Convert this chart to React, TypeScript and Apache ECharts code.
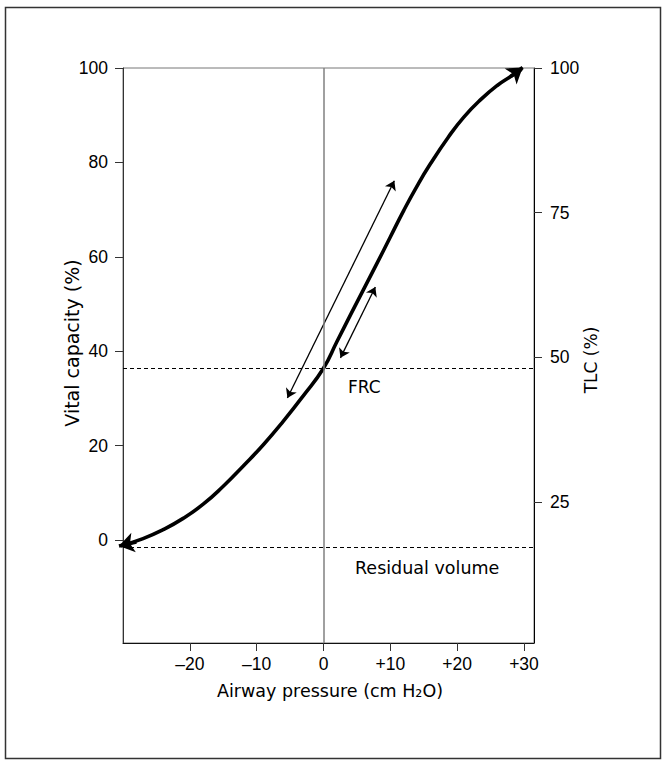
import React, { useEffect, useRef } from "react";
import * as echarts from "echarts";

// Pressure-volume curve of the respiratory system (relaxation curve)
const CURVE_PRESSURE = [-30.3, -27, -24, -21, -18, -15, -12, -9, -6, -3, 0, 2, 4, 6, 8, 10, 12, 14, 16, 18.7, 21, 23.6, 26, 28, 29.5];
const CURVE_VOLUME = [-1.2, 0.3, 2.2, 4.6, 7.6, 11.4, 15.7, 20.2, 25.2, 30.6, 36.4, 42.0, 47.6, 53.1, 58.6, 64.2, 69.8, 75.0, 79.7, 85.4, 89.6, 93.4, 96.3, 98.2, 99.6];

// arrowheads at the two ends of the curve: [from, to]
const CURVE_END_LEFT = [[-28, -0.4], [-30.6, -1.25]];
const CURVE_END_RIGHT = [[28, 98.2], [29.8, 100.1]];

// thin double-headed arrows
const ARROW_LONG = [[-5.4, 30.1], [10.6, 76.1]];
const ARROW_SHORT = [[2.54, 38.6], [7.76, 53.6]];

// reference levels (vital capacity %)
const FRC_LEVEL = 36.4;
const RESIDUAL_LEVEL = -1.5;

// axis ticks
const X_TICKS = [-20, -10, 0, 10, 20, 30];
const VC_TICKS = [0, 20, 40, 60, 80, 100];
const TLC_TICKS = [25, 50, 75, 100];

const NUM_FONT = "'Liberation Sans', Arial, sans-serif";
const TEXT_FONT = "'DejaVu Sans', 'Liberation Sans', sans-serif";

export default function App() {
  const ref = useRef<HTMLDivElement>(null);

  useEffect(() => {
    if (!ref.current) return;
    const chart = echarts.init(ref.current, null, { renderer: "svg" });

    const curveData = CURVE_PRESSURE.map((p, i) => [p, CURVE_VOLUME[i]]);

    const option = {
      animation: false,
      backgroundColor: "#fff",
      grid: {
        left: 123,
        right: 129,
        top: 68,
        bottom: 119,
        show: true,
        borderColor: "#777",
        borderWidth: 1,
        backgroundColor: "transparent",
      },
      xAxis: {
        type: "value",
        min: -30,
        max: 31.5,
        position: "bottom",
        splitLine: { show: false },
        axisLine: { show: true, onZero: false, lineStyle: { color: "#111", width: 1 } },
        axisTick: {
          show: true,
          inside: false,
          customValues: X_TICKS,
          length: 8,
          lineStyle: { color: "#333", width: 1 },
        },
        axisLabel: {
          customValues: X_TICKS,
          margin: 12,
          color: "#000",
          fontSize: 17.5,
          fontFamily: NUM_FONT,
          formatter: (v: number) => (v > 0 ? "+" + v : v < 0 ? "\u2013" + Math.abs(v) : "0"),
        },
      },
      yAxis: [
        {
          type: "value",
          position: "left",
          min: -21.8,
          max: 100,
          splitLine: { show: false },
          axisLine: { show: true, onZero: false, lineStyle: { color: "#333", width: 1 } },
          axisTick: {
            show: true,
            inside: false,
            customValues: VC_TICKS,
            length: 8,
            lineStyle: { color: "#333", width: 1 },
          },
          axisLabel: {
            customValues: VC_TICKS,
            margin: 15,
            color: "#000",
            fontSize: 17.5,
            fontFamily: NUM_FONT,
          },
        },
        {
          type: "value",
          position: "right",
          min: 0.6,
          max: 100,
          splitLine: { show: false },
          axisLine: { show: true, onZero: false, lineStyle: { color: "#000", width: 1 } },
          axisTick: {
            show: true,
            inside: false,
            customValues: TLC_TICKS,
            length: 8,
            lineStyle: { color: "#333", width: 1 },
          },
          axisLabel: {
            customValues: TLC_TICKS,
            margin: 16,
            color: "#000",
            fontSize: 17.5,
            fontFamily: NUM_FONT,
          },
        },
      ],
      series: [
        {
          type: "line",
          name: "reference",
          data: [],
          z: 1,
          silent: true,
          markLine: {
            silent: true,
            symbol: ["none", "none"],
            label: { show: false },
            data: [
              { xAxis: 0, lineStyle: { color: "#808080", width: 1.5, type: "solid" } },
              { yAxis: FRC_LEVEL, lineStyle: { color: "#000", width: 1, type: [4, 3] } },
              { yAxis: RESIDUAL_LEVEL, lineStyle: { color: "#000", width: 1, type: [4, 3] } },
            ],
          },
        },
        {
          type: "line",
          name: "curve",
          data: curveData,
          smooth: 0.5,
          showSymbol: false,
          symbol: "none",
          clip: false,
          z: 3,
          lineStyle: { color: "#000", width: 3.6, cap: "round", join: "round" },
        },
        {
          type: "lines",
          coordinateSystem: "cartesian2d",
          clip: false,
          z: 4,
          symbol: ["none", "arrow"],
          symbolSize: 15,
          lineStyle: { color: "#000", width: 3.6, opacity: 1, curveness: 0 },
          itemStyle: { color: "#000" },
          data: [{ coords: CURVE_END_LEFT }, { coords: CURVE_END_RIGHT }],
        },
        {
          type: "lines",
          coordinateSystem: "cartesian2d",
          clip: false,
          z: 4,
          symbol: ["arrow", "arrow"],
          symbolSize: 9,
          lineStyle: { color: "#000", width: 1.3, opacity: 1, curveness: 0 },
          itemStyle: { color: "#000" },
          data: [{ coords: ARROW_LONG }, { coords: ARROW_SHORT }],
        },
      ],
      graphic: [
        {
          type: "rect",
          shape: { x: 5.5, y: 7.5, width: 655, height: 751 },
          style: { fill: "none", stroke: "#333", lineWidth: 1.5 },
          silent: true,
        },
        {
          type: "text",
          x: 72,
          y: 343,
          rotation: Math.PI / 2,
          style: {
            text: "Vital capacity (%)",
            fontSize: 19,
            fontFamily: TEXT_FONT,
            fill: "#000",
            align: "center",
            verticalAlign: "middle",
          },
        },
        {
          type: "text",
          x: 591,
          y: 360,
          rotation: Math.PI / 2,
          style: {
            text: "TLC (%)",
            fontSize: 17,
            fontFamily: TEXT_FONT,
            fill: "#000",
            align: "center",
            verticalAlign: "middle",
          },
        },
        {
          type: "text",
          x: 330,
          y: 691,
          style: {
            text: "Airway pressure (cm H\u2082O)",
            fontSize: 17.5,
            fontFamily: TEXT_FONT,
            fill: "#000",
            align: "center",
            verticalAlign: "middle",
          },
        },
        {
          type: "text",
          x: 348,
          y: 387,
          style: {
            text: "FRC",
            fontSize: 17,
            fontFamily: TEXT_FONT,
            fill: "#000",
            align: "left",
            verticalAlign: "middle",
          },
        },
        {
          type: "text",
          x: 355,
          y: 568,
          style: {
            text: "Residual volume",
            fontSize: 17.5,
            fontFamily: TEXT_FONT,
            fill: "#000",
            align: "left",
            verticalAlign: "middle",
          },
        },
      ],
    };

    chart.setOption(option as any);
    return () => chart.dispose();
  }, []);

  return (
    <div
      ref={ref}
      style={{ position: "fixed", left: 0, top: 0, width: 663, height: 762, background: "#fff" }}
    />
  );
}
